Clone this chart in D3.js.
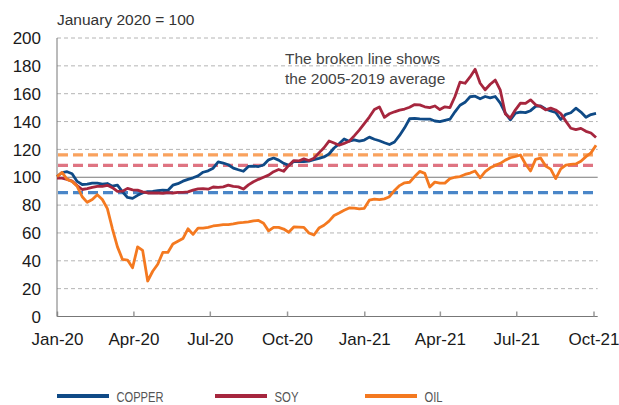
<!DOCTYPE html>
<html>
<head>
<meta charset="utf-8">
<script src="https://cdn.jsdelivr.net/npm/d3@7"></script>
<style>
  body { margin: 0; background: #fff; }
  svg { display: block; font-family: "Liberation Sans", Arial, sans-serif; }
</style>
</head>
<body>
<svg id="chart" width="619" height="405"></svg>
<script>
// observations every 6 days from 1 Jan 2020
const dates = d3.timeDay.range(new Date(2020, 0, 1), new Date(2021, 9, 5), 6);

const copper = [
  100.5, 103.4, 104, 102.5, 97, 94.8, 95, 95.8, 95.8, 95, 95.5, 93.6, 94.4, 89.5, 85.5, 84.8, 87, 88.8, 89.7, 89.8,
  90.3, 90.8, 90.5, 94.3, 95.4, 97.2, 98.5, 99.6, 101, 103.6, 104.6, 106.5, 111, 110.2, 109, 106.6, 105.4, 104.3, 107.8, 108,
  107.7, 108.8, 112.5, 113.8, 112.3, 110, 108.5, 111.3, 111.3, 111.3, 111.6, 112.6, 113.5, 114.6, 116.7, 121, 124, 127.5, 125.9, 126.8,
  126, 126.7, 128.8, 127.3, 126.2, 124.8, 123.5, 125.3, 130, 135.5, 142, 142.3, 141.9, 141.7, 141.8, 140.4, 139.9, 140.9, 141.7, 147,
  151.7, 153.8, 157.8, 158.2, 156.3, 158, 157, 158, 153.3, 146, 141.2, 146, 146.8, 146.4, 147.8, 150.9, 151.2, 149, 147.6, 146.5,
  141.5, 145.2, 146.3, 149.6, 146.8, 143.1, 145, 145.8
];

const soy = [
  99.4, 99.4, 98.5, 97.2, 94, 91.2, 91.8, 92.7, 93.4, 93.4, 94.2, 92.5, 89.8, 90, 92, 91, 90.8, 89.5, 88.7, 88.7,
  88.7, 88.5, 88.9, 88.7, 89.1, 89.1, 89.5, 90.8, 91.6, 91.8, 91.4, 93, 92.7, 93.1, 94.3, 93.4, 93.1, 91.5, 94.5, 96.8,
  98.5, 100, 101.5, 104, 105.6, 104.3, 108.5, 112, 111.7, 113.2, 112, 113.6, 117.5, 121.2, 126, 124.6, 123, 124.3, 125.8, 129.7,
  133.8, 138.5, 143.2, 148.6, 150.5, 143, 145.6, 147, 148.2, 149, 150.3, 152.2, 152, 150.6, 150, 151.2, 148.6, 150.6, 150, 158,
  168.3, 167.5, 172, 177.5, 167.5, 162.8, 166.8, 169.8, 162.5, 145.5, 142.5, 148.4, 153.2, 153, 155.6, 152, 150.8, 148.4, 149.6, 148.3,
  145.7, 140.3, 135.2, 134.2, 135.1, 133, 131.8, 128.5
];

const oil = [
  100.5, 103.5, 98.5, 97, 93.5, 86, 82, 84, 87.5, 84, 77.5, 63, 50, 41, 40.5, 35, 50, 47.5, 25.5, 32.5,
  37.5, 46, 46, 52, 54, 56, 63, 59, 63.5, 63.5, 64, 65, 65.5, 66, 66, 66.5, 67.3, 67.6, 68, 68.7,
  69, 67, 61.5, 64, 64, 62.8, 60.5, 64.3, 64.2, 64, 60, 58.5, 63.5, 65.5, 68.5, 72.5, 74.3, 76.3, 77.9, 77.8,
  77.3, 77.7, 83.5, 84.3, 84, 84.5, 86, 90.5, 94, 96, 96.4, 100.5, 104.2, 102.8, 93, 96.5, 95.8, 95.8, 99, 100,
  100.5, 102, 103, 104.5, 99.6, 104, 106.8, 108.5, 110, 112.3, 114, 114.9, 116, 109.5, 104.5, 112.8, 113.8, 108, 105.8, 99,
  106, 108.7, 109.2, 109.6, 111.5, 114.8, 117.5, 123
];

// 2005-2019 averages (the broken lines)
const averages = { copper: 89, soy: 108.5, oil: 116 };

const seriesNames = ["copper", "soy", "oil"];
const seriesLabels = ["COPPER", "SOY", "OIL"];
const yTicks = [0, 20, 40, 60, 80, 100, 120, 140, 160, 180, 200];

const colors = { copper: "#0f4a86", soy: "#a6263e", oil: "#f47920" };
const avgColors = { copper: "#4a86c8", soy: "#df7482", oil: "#f9a25e" };

const svg = d3.select("#chart");
const x = d3.scaleTime().domain([new Date(2020, 0, 1), new Date(2021, 9, 6)]).range([57, 597.7]);
const y = d3.scaleLinear().domain([0, 200]).range([316.5, 38]);

// grid
svg.append("g").selectAll("line").data(yTicks.filter(t => t > 0 && t !== 100)).join("line")
  .attr("x1", x.range()[0]).attr("x2", x.range()[1])
  .attr("y1", d => y(d)).attr("y2", d => y(d))
  .attr("stroke", "#b4b4b4").attr("stroke-width", 1).attr("stroke-dasharray", "4,3");

// y labels
svg.append("g").selectAll("text").data(yTicks).join("text")
  .attr("x", 41).attr("y", d => y(d)).attr("dy", "0.36em")
  .attr("text-anchor", "end").attr("font-size", 17).attr("fill", "#1a1a1a")
  .text(d => d);

// average lines
svg.append("g").selectAll("line").data(seriesNames).join("line")
  .attr("x1", x.range()[0] + 1).attr("x2", x.range()[1])
  .attr("y1", d => y(averages[d])).attr("y2", d => y(averages[d]))
  .attr("stroke", d => avgColors[d]).attr("stroke-width", 3.2).attr("stroke-dasharray", "10,5");

// 100 line
svg.append("line")
  .attr("x1", x.range()[0]).attr("x2", x.range()[1])
  .attr("y1", y(100)).attr("y2", y(100))
  .attr("stroke", "#7a7a7a").attr("stroke-width", 1);

// axes
const xAxis = svg.append("g").attr("transform", `translate(0,${y(0)})`)
  .call(d3.axisBottom(x).ticks(d3.timeMonth.every(3)).tickFormat(d3.timeFormat("%b-%y")).tickSize(-5).tickPadding(16));
xAxis.select(".domain").attr("stroke", "#777").attr("d", `M${x.range()[0]},0H${x.range()[1]}`);
xAxis.selectAll(".tick line").attr("stroke", "#999").attr("stroke-width", 1.5);
xAxis.selectAll(".tick text").attr("font-size", 17).attr("fill", "#1a1a1a")
  .attr("font-family", "Liberation Sans, Arial, sans-serif");

svg.append("line")
  .attr("x1", x.range()[0]).attr("x2", x.range()[0])
  .attr("y1", y(200)).attr("y2", y(0))
  .attr("stroke", "#777").attr("stroke-width", 1);

// series
const line = d3.line().x((d, i) => x(dates[i])).y(d => y(d));
const seriesData = { copper, soy, oil };
svg.append("g").selectAll("path").data(seriesNames).join("path")
  .attr("d", d => line(seriesData[d]))
  .attr("fill", "none").attr("stroke", d => colors[d])
  .attr("stroke-width", 2.8).attr("stroke-linejoin", "round");

// title & note
svg.append("text").attr("x", 57).attr("y", 24.5).attr("font-size", 15.5).attr("fill", "#333")
  .text("January 2020 = 100");
svg.append("text").attr("x", 285).attr("y", 64).attr("font-size", 15.5).attr("fill", "#444")
  .selectAll("tspan").data(["The broken line shows", "the 2005-2019 average"]).join("tspan")
  .attr("x", 285).attr("dy", (d, i) => i ? 20 : 0).text(d => d);

// legend
const legendX = [57, 215, 365];
const legendTextLen = [47, 24, 18];
const legend = svg.append("g").selectAll("g").data(seriesNames).join("g")
  .attr("transform", (d, i) => `translate(${legendX[i]},396)`);
legend.append("line").attr("x1", 0).attr("x2", 52).attr("stroke", d => colors[d]).attr("stroke-width", 4);
legend.append("text").attr("x", 59.5).attr("y", 5.5)
  .attr("font-family", "'Liberation Sans Narrow', 'Arial Narrow', sans-serif")
  .attr("font-size", 15).attr("fill", "#555")
  .attr("textLength", (d, i) => legendTextLen[i]).attr("lengthAdjust", "spacingAndGlyphs")
  .text((d, i) => seriesLabels[i]);
</script>
</body>
</html>
